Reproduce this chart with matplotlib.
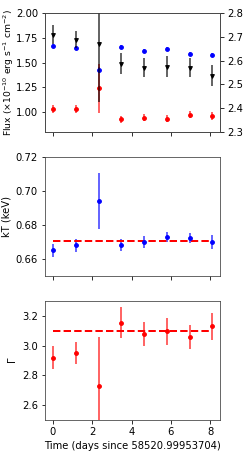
import matplotlib
matplotlib.use("Agg")
import matplotlib.pyplot as plt
import numpy as np

t = [0.0, 1.16, 2.32, 3.48, 4.64, 5.80, 6.96, 8.10]

# top panel, left axis (flux)
flux_blue = [1.67, 1.65, 1.43, 1.655, 1.62, 1.635, 1.59, 1.575]
flux_blue_err = [0.02, 0.02, 0.03, 0.02, 0.02, 0.02, 0.02, 0.02]
flux_red = [1.03, 1.03, 1.24, 0.93, 0.945, 0.935, 0.975, 0.96]
flux_red_err = [0.04, 0.04, 0.25, 0.035, 0.035, 0.035, 0.035, 0.04]
# top panel, right axis
right_black = [2.708, 2.688, 2.671, 2.587, 2.571, 2.575, 2.571, 2.537]
right_black_err = [0.040, 0.036, 0.246, 0.045, 0.040, 0.045, 0.040, 0.045]

kT = [0.665, 0.668, 0.694, 0.668, 0.670, 0.673, 0.6725, 0.670]
kT_err = [0.004, 0.004, 0.0165, 0.0035, 0.0035, 0.003, 0.003, 0.004]
kT_mean = 0.6705

gamma = [2.92, 2.95, 2.73, 3.155, 3.08, 3.095, 3.06, 3.13]
gamma_err = [0.08, 0.075, 0.33, 0.105, 0.08, 0.09, 0.08, 0.09]
gamma_mean = 3.095

W, H = 243, 451
dpi = 72
fig = plt.figure(figsize=(W / dpi, H / dpi), dpi=dpi)
plt.rcParams['font.size'] = 10

def ax_at(x0, y0, x1, y1):
    return fig.add_axes([x0 / W, (H - y1) / H, (x1 - x0) / W, (y1 - y0) / H])

ax1 = ax_at(45, 13, 220, 132)
ax2 = ax_at(45, 157, 220, 276)
ax3 = ax_at(45, 301, 220, 420)

ekw = dict(fmt='o', ms=3.8, elinewidth=1.7, capsize=0)

ax1.errorbar(t, flux_blue, yerr=flux_blue_err, color='blue', ecolor=(0, 0, 1, 0.7), **ekw)
ax1.errorbar(t, flux_red, yerr=flux_red_err, color='red', ecolor=(1, 0, 0, 0.7), **ekw)
ax1.set_ylim(0.8, 2.0)
ax1.set_yticks([1.0, 1.25, 1.5, 1.75, 2.0])
ax1.set_ylabel(r'Flux ($\times10^{-10}$ erg s$^{-1}$ cm$^{-2}$)', fontsize=9.2, labelpad=0)
ax1r = ax1.twinx()
ax1r.errorbar(t, right_black, yerr=right_black_err, fmt='v', ms=3.8, elinewidth=1.7,
              capsize=0, color='black', ecolor=(0, 0, 0, 0.7))
ax1r.set_ylim(2.3, 2.8)
ax1r.set_yticks([2.3, 2.4, 2.5, 2.6, 2.7, 2.8])

ax2.errorbar(t, kT, yerr=kT_err, color='blue', ecolor=(0, 0, 1, 0.7), **ekw)
ax2.plot([t[0], t[-1]], [kT_mean, kT_mean], '--', color='red', lw=2)
ax2.set_ylim(0.65, 0.72)
ax2.set_yticks([0.66, 0.68, 0.70, 0.72])
ax2.set_ylabel('kT (keV)')

ax3.errorbar(t, gamma, yerr=gamma_err, color='red', ecolor=(1, 0, 0, 0.7), **ekw)
ax3.plot([t[0], t[-1]], [gamma_mean, gamma_mean], '--', color='red', lw=2)
ax3.set_ylim(2.5, 3.3)
ax3.set_yticks([2.6, 2.8, 3.0, 3.2])
ax3.set_ylabel(r'$\Gamma$')
ax3.set_xlabel('Time (days since 58520.99953704)')

for a in (ax1, ax2, ax3):
    a.set_xticks([0, 2, 4, 6, 8])
for a in (ax1, ax2):
    a.tick_params(labelbottom=False)
for a in (ax1, ax1r, ax2, ax3):
    for s in a.spines.values():
        s.set_color('#444444')

fig.savefig('out.png', dpi=dpi)
